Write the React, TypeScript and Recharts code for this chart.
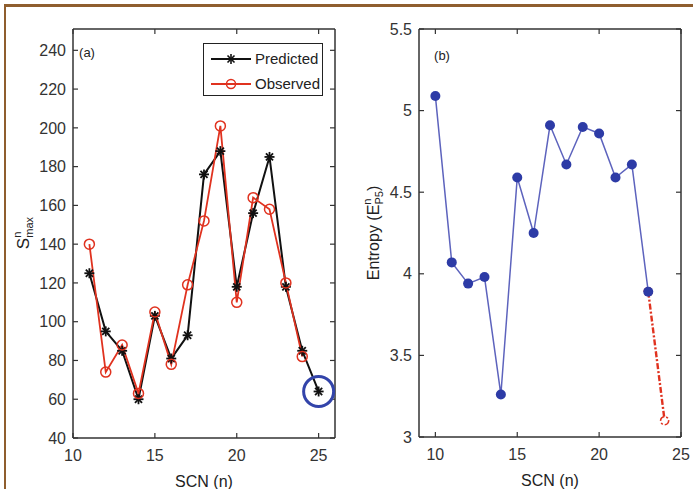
import React from "react"
import {
  LineChart,
  Line,
  XAxis,
  YAxis,
  Legend,
  ReferenceDot,
} from "recharts"

// panel (a): peak values per SCN
const scnA = [11, 12, 13, 14, 15, 16, 17, 18, 19, 20, 21, 22, 23, 24, 25]
const predicted = [125, 95, 85, 60, 103, 81, 93, 176, 188, 118, 156, 185, 118, 85, 64]
const observed = [140, 74, 88, 63, 105, 78, 119, 152, 201, 110, 164, 158, 120, 82, null]
const ticksAX = [10, 15, 20, 25]
const ticksAY = [40, 60, 80, 100, 120, 140, 160, 180, 200, 220, 240]

// panel (b): entropy per SCN, plus the extrapolated step
const scnB = [10, 11, 12, 13, 14, 15, 16, 17, 18, 19, 20, 21, 22, 23]
const entropy = [5.09, 4.07, 3.94, 3.98, 3.26, 4.59, 4.25, 4.91, 4.67, 4.9, 4.86, 4.59, 4.67, 3.89]
const scnExt = [23, 24]
const entropyExt = [3.89, 3.1]
const ticksBX = [10, 15, 20, 25]
const ticksBY = [3, 3.5, 4, 4.5, 5, 5.5]

const dataA = scnA.map((scn, i) => ({ scn, predicted: predicted[i], observed: observed[i] }))
const dataB = scnB.map((scn, i) => ({ scn, entropy: entropy[i] }))
const dataExt = scnExt.map((scn, i) => ({ scn, entropy: entropyExt[i] }))

const FONT = "'Liberation Sans', Arial, Helvetica, sans-serif"
const AXIS = "#333"
const tickStyle = { fill: "#333", fontSize: 16, fontFamily: FONT }
const axisLineStyle = { stroke: AXIS, strokeWidth: 1.5 }
const tickLineStyle = { stroke: AXIS, strokeWidth: 1.2 }

// matlab-style asterisk marker
const StarDot = (props: any) => {
  const { cx, cy, index } = props
  if (cx == null || cy == null || props.value == null) return <g key={`s-${index}`} />
  const r = 5
  const d = r * 0.7071
  return (
    <g key={`s-${index}`} stroke="#111" strokeWidth={1.8}>
      <line x1={cx - r} y1={cy} x2={cx + r} y2={cy} />
      <line x1={cx} y1={cy - r} x2={cx} y2={cy + r} />
      <line x1={cx - d} y1={cy - d} x2={cx + d} y2={cy + d} />
      <line x1={cx - d} y1={cy + d} x2={cx + d} y2={cy - d} />
    </g>
  )
}

const LegendBox = () => (
  <div
    style={{
      width: 118,
      height: 51,
      border: "1.5px solid #222",
      background: "#fff",
      fontFamily: FONT,
      fontSize: 15,
      color: "#222",
      boxSizing: "content-box",
    }}
  >
    {[
      { name: "Predicted", color: "#111", star: true },
      { name: "Observed", color: "#e0321f", star: false },
    ].map((item) => (
      <div key={item.name} style={{ display: "flex", alignItems: "center", height: 21, marginTop: 4 }}>
        <svg width={46} height={14} style={{ marginLeft: 5 }}>
          <line x1={2} y1={7} x2={42} y2={7} stroke={item.color} strokeWidth={2} />
          {item.star ? (
            <g stroke="#111" strokeWidth={1.6}>
              <line x1={17} y1={7} x2={27} y2={7} />
              <line x1={22} y1={2} x2={22} y2={12} />
              <line x1={18.5} y1={3.5} x2={25.5} y2={10.5} />
              <line x1={18.5} y1={10.5} x2={25.5} y2={3.5} />
            </g>
          ) : (
            <circle cx={22} cy={7} r={4.5} fill="none" stroke={item.color} strokeWidth={1.5} />
          )}
        </svg>
        <span>{item.name}</span>
      </div>
    ))}
  </div>
)

const SLabel = () => (
  <text
    transform="rotate(-90, 28.5, 233)"
    x={28.5}
    y={233}
    textAnchor="middle"
    fontFamily={FONT}
    fontSize={17}
    fill="#222"
  >
    S
    <tspan fontSize={11} dy={-8}>n</tspan>
    <tspan fontSize={11} dx={-6} dy={12}>max</tspan>
  </text>
)

const EntropyLabel = () => (
  <text
    transform="rotate(-90, 33.5, 233)"
    x={33.5}
    y={233}
    textAnchor="middle"
    fontFamily={FONT}
    fontSize={16}
    fill="#222"
  >
    Entropy (E
    <tspan fontSize={11} dy={-8}>n</tspan>
    <tspan fontSize={11} dx={-6} dy={12}>P5</tspan>
    <tspan dy={-4}>)</tspan>
  </text>
)

// top and right axes close the box with inward ticks, no labels
const BoxAxes = ({ xDomain, yDomain, xTicks, yTicks }: any) => [
  <XAxis
    key="top"
    xAxisId="top"
    orientation="top"
    dataKey="scn"
    type="number"
    domain={xDomain}
    allowDataOverflow
    ticks={xTicks}
    interval={0}
    height={1}
    tickSize={-5}
    tickFormatter={() => ""}
    axisLine={axisLineStyle}
    tickLine={tickLineStyle}
  />,
  <YAxis
    key="right"
    yAxisId="right"
    orientation="right"
    type="number"
    domain={yDomain}
    allowDataOverflow
    ticks={yTicks}
    interval={0}
    width={1}
    tickSize={-5}
    tickFormatter={() => ""}
    axisLine={axisLineStyle}
    tickLine={tickLineStyle}
  />,
]

function PanelA() {
  return (
    <LineChart
      width={345}
      height={489}
      data={dataA}
      margin={{ top: 28, right: 9, left: 0, bottom: 0 }}
    >
      <XAxis
        dataKey="scn"
        type="number"
        domain={[10, 26]}
        allowDataOverflow
        ticks={ticksAX}
        interval={0}
        height={51}
        tickSize={-5}
        tickMargin={17}
        tick={tickStyle}
        axisLine={axisLineStyle}
        tickLine={tickLineStyle}
        label={{ value: "SCN (n)", position: "insideBottom", offset: 2, fill: "#222", fontSize: 16, fontFamily: FONT }}
      />
      <YAxis
        type="number"
        domain={[40, 251]}
        allowDataOverflow
        ticks={ticksAY}
        interval={0}
        width={73}
        tickSize={-5}
        tickMargin={12}
        tick={tickStyle}
        axisLine={axisLineStyle}
        tickLine={tickLineStyle}
        label={{ content: () => <SLabel /> }}
      />
      {BoxAxes({ xDomain: [10, 26], yDomain: [40, 251], xTicks: ticksAX, yTicks: ticksAY })}
      {/* invisible series so the box axes get a domain */}
      <Line
        xAxisId="top"
        yAxisId="right"
        dataKey="predicted"
        stroke="none"
        dot={false}
        activeDot={false}
        legendType="none"
        isAnimationActive={false}
      />
      <Line
        dataKey="predicted"
        stroke="#111"
        strokeWidth={2}
        dot={StarDot}
        isAnimationActive={false}
      />
      <Line
        dataKey="observed"
        stroke="#e0321f"
        strokeWidth={1.8}
        dot={{ r: 5, fill: "none", stroke: "#e0321f", strokeWidth: 1.5 }}
        isAnimationActive={false}
      />
      <ReferenceDot
        x={25}
        y={64}
        r={15}
        fill="none"
        stroke="#3344aa"
        strokeWidth={3}
        ifOverflow="visible"
      />
      <Legend
        layout="horizontal"
        verticalAlign="middle"
        align="center"
        content={() => <LegendBox />}
        wrapperStyle={{ left: 203, top: 43, width: 121, height: 54 }}
      />
      <text x={87} y={57} textAnchor="middle" fontFamily={FONT} fontSize={13} fill="#222">
        (a)
      </text>
    </LineChart>
  )
}

function PanelB() {
  return (
    <LineChart
      width={348}
      height={489}
      margin={{ top: 28, right: 11, left: 0, bottom: 0 }}
    >
      <XAxis
        dataKey="scn"
        type="number"
        domain={[9, 25]}
        allowDataOverflow
        ticks={ticksBX}
        interval={0}
        height={52}
        tickSize={-5}
        tickMargin={17}
        tick={tickStyle}
        axisLine={axisLineStyle}
        tickLine={tickLineStyle}
        label={{ value: "SCN (n)", position: "insideBottom", offset: 3, fill: "#222", fontSize: 16, fontFamily: FONT }}
      />
      <YAxis
        type="number"
        domain={[3, 5.5]}
        allowDataOverflow
        ticks={ticksBY}
        interval={0}
        width={74}
        tickSize={-5}
        tickMargin={12}
        tick={tickStyle}
        axisLine={axisLineStyle}
        tickLine={tickLineStyle}
        label={{ content: () => <EntropyLabel /> }}
      />
      {BoxAxes({ xDomain: [9, 25], yDomain: [3, 5.5], xTicks: ticksBX, yTicks: ticksBY })}
      <Line
        data={dataB}
        xAxisId="top"
        yAxisId="right"
        dataKey="entropy"
        stroke="none"
        dot={false}
        activeDot={false}
        legendType="none"
        isAnimationActive={false}
      />
      <Line
        data={dataExt}
        dataKey="entropy"
        stroke="#e0321f"
        strokeWidth={2.4}
        strokeDasharray="6 2 2 2"
        dot={{ r: 4, fill: "#fff", stroke: "#e0321f", strokeWidth: 1.6 }}
        isAnimationActive={false}
      />
      <Line
        data={dataB}
        dataKey="entropy"
        stroke="#5d63bd"
        strokeWidth={1.5}
        dot={{ r: 5, fill: "#2d3ba6", stroke: "#2d3ba6", strokeWidth: 0 }}
        isAnimationActive={false}
      />
      <text x={442 - 345} y={60} textAnchor="middle" fontFamily={FONT} fontSize={13} fill="#222">
        (b)
      </text>
    </LineChart>
  )
}

export default function App() {
  return (
    <div
      style={{
        position: "absolute",
        left: 0,
        top: 0,
        width: 693,
        height: 489,
        background: "#fff",
        overflow: "hidden",
      }}
    >
      <div
        style={{
          position: "absolute",
          left: 4,
          top: 4,
          width: 689,
          height: 485,
          borderTop: "3px solid #8f5e2e",
          borderLeft: "2.5px solid #8f5e2e",
          boxSizing: "border-box",
        }}
      />
      <div style={{ position: "absolute", left: 0, top: 0 }}>
        <PanelA />
      </div>
      <div style={{ position: "absolute", left: 345, top: 0 }}>
        <PanelB />
      </div>
    </div>
  )
}
